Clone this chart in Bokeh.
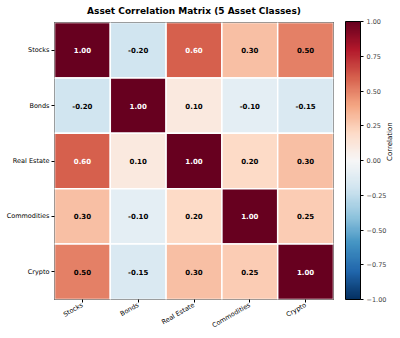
import math
import numpy as np
from bokeh.plotting import figure
from bokeh.models import (ColumnDataSource, LinearColorMapper, ColorBar, FixedTicker,
                          FactorRange, CategoricalAxis)
from bokeh.transform import transform
from bokeh.embed import file_html
from bokeh.resources import INLINE
from bokeh.core.properties import value

assets = ["Stocks", "Bonds", "Real Estate", "Commodities", "Crypto"]
corr = [
    [1.00, -0.20, 0.60, 0.30, 0.50],
    [-0.20, 1.00, 0.10, -0.10, -0.15],
    [0.60, 0.10, 1.00, 0.20, 0.30],
    [0.30, -0.10, 0.20, 1.00, 0.25],
    [0.50, -0.15, 0.30, 0.25, 1.00],
]
cbar_ticks = [-1.0, -0.75, -0.5, -0.25, 0.0, 0.25, 0.5, 0.75, 1.0]
title_text = "Asset Correlation Matrix (5 Asset Classes)"
cbar_label = "Correlation"

# RdBu_r palette (ColorBrewer anchors, blue -> red), interpolated to 256
anchors = ["#053061", "#2166ac", "#4393c3", "#92c5de", "#d1e5f0", "#f7f7f7",
           "#fddbc7", "#f4a582", "#d6604d", "#b2182b", "#67001f"]
rgb = np.array([[int(h[i:i + 2], 16) for i in (1, 3, 5)] for h in anchors], dtype=float)
t_anchor = np.linspace(0, 1, len(anchors))
t = np.linspace(0, 1, 256)
palette = []
for tt in t:
    c = [np.interp(tt, t_anchor, rgb[:, k]) for k in range(3)]
    palette.append("#%02x%02x%02x" % tuple(int(round(v)) for v in c))

mapper = LinearColorMapper(palette=palette, low=-1, high=1)

xs, ys, vals, labels, tcolors = [], [], [], [], []
for i, row_name in enumerate(assets):
    for j, col_name in enumerate(assets):
        v = corr[i][j]
        xs.append(col_name)
        ys.append(row_name)
        vals.append(v)
        labels.append(f"{v:.2f}")
        tcolors.append("white" if abs(v) > 0.5 else "black")
src = ColumnDataSource(dict(x=xs, y=ys, v=vals, label=labels, tc=tcolors))

FONT = "DejaVu Sans"
p = figure(width=400, height=338, x_range=FactorRange(*assets),
           y_range=FactorRange(*reversed(assets)),
           output_backend="svg", toolbar_location=None,
           min_border_left=54, min_border_top=21, min_border_bottom=39,
           min_border_right=67)
p.title.text = title_text
p.title.text_font = FONT
p.title.text_font_size = "9px"
p.title.align = "center"
p.title.text_color = "black"
p.title.vertical_align = "top"
p.title.standoff = 10

p.rect(x="x", y="y", width=1, height=1, source=src,
       fill_color=transform("v", mapper), line_color="white", line_width=1.5)
p.text(x="x", y="y", text="label", source=src, text_color="tc",
       text_align="center", text_baseline="middle",
       text_font=value(FONT), text_font_size="7px", text_font_style="bold")

p.grid.visible = False
p.outline_line_color = "black"
p.outline_line_width = 1
for ax in (p.xaxis, p.yaxis):
    ax.axis_line_color = None
    ax.major_tick_line_color = "black"
    ax.major_tick_out = 3
    ax.major_tick_in = 0
    ax.minor_tick_line_color = None
    ax.major_label_text_font = FONT
    ax.major_label_text_font_size = "6.5px"
    ax.major_label_text_color = "black"
    ax.major_label_standoff = 2
p.xaxis.major_label_orientation = math.pi / 6

cb = ColorBar(color_mapper=mapper, width=15, height=278, padding=0, margin=0,
              location=(12, 0),
              ticker=FixedTicker(ticks=cbar_ticks),
              major_label_overrides={tk: (f"{tk:.2f}".replace("-", "\u2212")) for tk in cbar_ticks},
              major_tick_line_color="black", major_tick_out=3, major_tick_in=0,
              minor_tick_line_color=None, bar_line_color="black",
              major_label_text_font=FONT, major_label_text_font_size="6.5px",
              label_standoff=3, border_line_color=None, background_fill_color=None)
p.add_layout(cb, "right")

p.extra_y_ranges = {"cblab": FactorRange("cb")}
lab_axis = CategoricalAxis(y_range_name="cblab",
                           axis_label=cbar_label, axis_label_standoff=0,
                           axis_label_text_font=FONT, axis_label_text_font_size="7px",
                           axis_label_text_font_style="normal",
                           axis_label_text_color="black",
                           axis_line_color=None, major_tick_line_color=None,
                           minor_tick_line_color=None, major_tick_out=0,
                           major_label_standoff=0, major_label_text_font_size="0px",
                           major_label_text_color=None)
lab_axis.axis_label_orientation = math.pi / 2
p.add_layout(lab_axis, "right")

open("out.html", "w").write(file_html(p, INLINE))
